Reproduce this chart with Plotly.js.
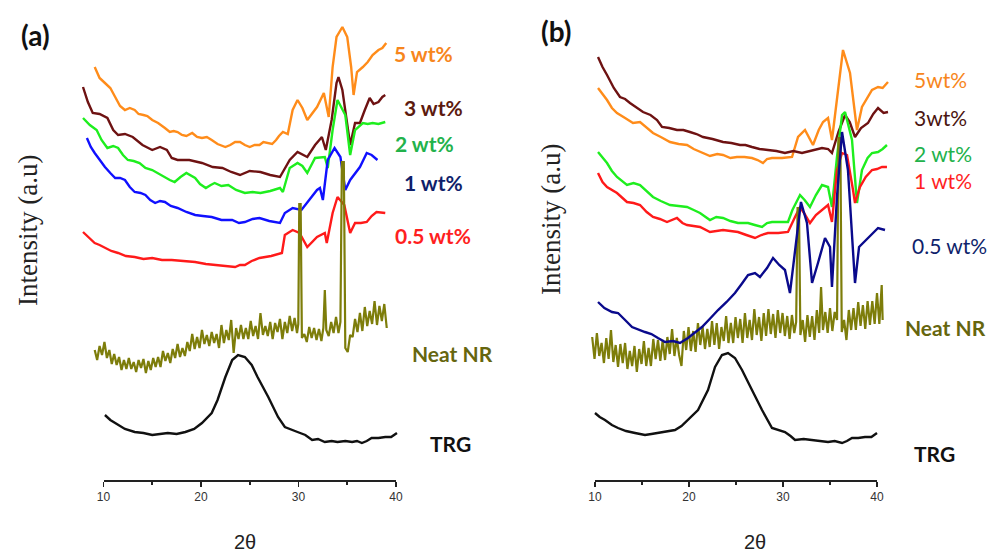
<!DOCTYPE html>
<html>
<head>
<meta charset="utf-8">
<script src="https://cdn.plot.ly/plotly-3.0.1.min.js"></script>
<style>html,body{margin:0;padding:0;background:#fff;}#chart{width:993px;height:555px;}</style>
</head>
<body>
<div id="chart"></div>
<script>
// ---------- Panel (a): 2θ (deg) and intensity (a.u.) ----------
const a5_x = [9.1,9.6,10.15,10.7,11.2,11.7,12.2,12.7,13.2,13.6,14.1,14.5,15.0,15.6,16.3,16.8,17.2,17.6,18.05,18.5,19.1,19.6,20.1,20.6,21.1,21.7,22.5,23.0,23.5,24.0,24.5,25.0,25.5,26.0,26.4,26.8,27.3,27.7,28.0,28.4,28.9,29.4,29.9,30.4,30.9,31.9,32.6,33.1,33.5,33.9,34.5,35.0,35.4,35.65,36.0,36.6,37.1,37.6,38.2,38.6,39.0];
const a5_y = [413,402,397,392,383,374,370,372,370,366,365,364,360,357,352,348,349,348,345,344,347,343,342,343,340,336,333,335,338,338,335,333,335,335,338,337,336,340,344,348,346,370,380,372,360,373,387,363,413,443,453,443,413,385,408,413,418,425,430,432,437];

const a3_x = [7.9,8.4,8.9,9.6,10.4,11.0,11.5,12.2,13.0,14.0,15.0,15.8,16.5,17.0,17.6,18.8,20.1,21.2,22.2,23.1,24.0,25.0,26.1,27.1,28.1,29.1,29.9,30.9,31.7,32.4,32.8,33.4,33.9,34.1,34.5,34.9,35.3,35.8,36.3,36.8,37.3,37.7,38.2,38.6,38.9];
const a3_y = [393,378,367,366,362,350,345,346,343,335,330,333,330,322,320,320,317,313,312,308,305,309,308,305,303,320,328,323,335,343,330,360,397,403,390,363,335,357,357,370,382,376,378,383,385];

const a2_x = [7.9,8.6,9.3,9.8,10.4,11.0,11.5,12.0,12.5,13.1,13.7,14.3,15.0,15.7,16.3,16.8,17.3,17.9,18.5,19.0,19.4,19.9,20.5,21.0,21.4,22.1,22.8,23.6,24.5,25.3,26.1,27.1,28.1,28.4,29.1,29.9,30.4,30.9,31.7,32.7,33.0,33.5,34.0,34.8,35.3,35.8,36.6,37.1,37.6,38.2,38.9];
const a2_y = [362,355,350,340,332,334,332,325,320,319,317,312,310,306,303,300,298,303,307,304,302,296,292,295,297,294,295,290,287,288,287,289,292,288,312,317,314,307,322,323,312,350,380,365,325,350,357,356,357,356,358];

const a1_x = [8.3,8.7,9.1,9.6,10.15,10.7,11.2,11.7,12.2,12.7,13.2,13.8,14.3,14.8,15.3,15.8,16.3,16.9,17.6,18.5,19.4,20.2,21.1,22.1,23.2,23.9,24.5,25.3,26.0,27.0,28.1,28.6,29.4,30.3,31.1,31.9,32.2,32.5,33.0,33.7,34.3,34.8,35.3,36.3,37.0,37.5,38.1];
const a1_y = [342,333,327,320,313,307,302,302,300,293,288,287,285,280,277,279,278,274,272,268,265,264,263,260,260,257,258,261,262,259,257,267,272,270,280,290,292,280,320,332,323,290,300,313,327,325,320];

const a05_x = [7.9,8.5,9.1,9.6,10.15,10.8,11.5,12.3,13.2,14.1,15.0,16.0,17.0,18.2,19.4,20.5,21.7,22.6,23.5,24.0,24.5,25.2,26.0,27.2,28.3,28.6,29.4,30.1,30.9,31.9,32.7,32.9,33.5,34.0,34.7,35.3,35.8,36.4,37.0,37.5,38.0,38.9];
const a05_y = [248,242,237,235,232,229,227,224,223,221,222,220,220,219,218,216,215,214,213,215,215,219,222,224,227,245,250,247,233,243,247,237,267,283,275,247,257,257,258,264,268,267];

const aNR_x = [9.10,9.35,9.60,9.85,10.10,10.35,10.60,10.85,11.10,11.35,11.60,11.85,12.10,12.35,12.60,12.85,13.10,13.35,13.60,13.85,14.10,14.35,14.60,14.85,15.10,15.35,15.60,15.85,16.10,16.35,16.60,16.85,17.10,17.35,17.60,17.85,18.10,18.35,18.60,18.85,19.10,19.35,19.60,19.85,20.10,20.35,20.60,20.85,21.10,21.35,21.60,21.85,22.10,22.35,22.60,22.85,23.10,23.35,23.60,23.85,24.10,24.35,24.60,24.85,25.10,25.35,25.60,25.85,26.10,26.35,26.60,26.85,27.10,27.35,27.60,27.85,28.10,28.35,28.60,28.85,29.10,29.35,29.60,29.85,29.98,30.08,30.22,30.35,30.60,30.85,31.10,31.35,31.60,31.85,32.10,32.35,32.55,32.70,32.85,33.10,33.35,33.60,33.85,34.10,34.30,34.45,34.65,34.80,35.05,35.30,35.55,35.80,36.05,36.30,36.55,36.80,37.05,37.30,37.55,37.80,38.05,38.30,38.55,38.80,39.05];
const aNR_y = [130,120,134,125,138,122,130,116,126,115,123,110,120,111,122,111,118,108,120,112,121,107,119,110,122,113,123,113,129,119,127,117,131,122,136,123,132,124,138,129,146,131,143,132,150,136,145,134,148,137,146,132,155,137,150,140,160,127,152,141,155,141,152,141,159,144,154,141,167,145,154,144,158,141,157,148,161,141,158,147,164,149,162,147,156,276,276,142,146,138,153,142,152,140,151,139,152,190,150,144,158,147,163,147,158,318,318,132,128,145,143,161,148,167,149,173,154,169,156,179,155,174,159,176,152];

const aTRG_x = [10.15,10.7,11.2,12.2,13.2,14.1,15.0,15.8,16.6,17.5,18.4,19.3,20.1,21.1,21.7,22.5,23.2,23.8,24.5,25.2,25.8,26.9,27.9,28.6,29.3,29.9,30.7,31.4,32.0,32.7,33.4,34.0,34.8,35.5,36.0,36.5,37.0,37.5,38.2,38.9,39.5,40.1];
const aTRG_y = [65,60,57,51,48,47,45,46,47,46,48,51,57,67,80,103,120,125,123,115,103,83,63,53,50,48,45,40,41,38,39,38,39,38,39,37,39,42,42,43,43,47];

// ---------- Panel (b) ----------
const b5_x = [10.32,10.8,11.28,11.8,12.34,13.2,14.04,14.79,15.5,16.17,17.0,17.98,18.9,19.79,20.5,21.17,22.23,23.0,23.62,24.4,25.1,25.9,26.7,27.3,27.87,28.3,28.83,29.9,30.96,31.6,32.34,33.19,33.8,34.26,34.79,35.21,35.74,36.38,37.13,37.87,38.4,39.0,39.47,40.11,40.6,41.17];
const b5_y = [392,386,380,372,367,362,357,358,352,347,343,338,336,335,331,328,324,326,325,322,323,323,322,320,317,321,322,322,323,343,350,335,350,358,362,340,383,430,407,350,373,383,390,393,392,398];

const b3_x = [10.32,10.8,11.28,12.0,12.66,13.2,13.72,14.4,15.11,15.9,16.6,17.13,17.9,18.72,19.4,20.1,20.8,21.49,22.5,23.62,24.5,25.43,26.0,26.7,27.5,28.4,29.3,30.21,31.1,32.02,33.0,34.15,34.8,35.21,35.9,36.6,37.1,37.66,38.3,39.04,39.6,40.11,40.7,41.17];
const b3_y = [423,413,405,392,383,381,377,373,368,365,360,353,352,350,350,348,346,343,341,338,337,335,335,333,331,330,329,327,329,327,329,332,331,327,348,365,358,343,352,357,366,372,367,368];

const b2_x = [10.32,10.8,11.28,11.8,12.34,13.4,14.1,14.79,15.5,16.17,17.0,17.98,18.9,19.79,20.5,21.17,22.23,22.9,23.62,24.4,25.21,26.28,27.0,27.77,28.3,28.83,29.7,30.53,31.0,31.49,31.81,32.3,32.87,33.5,34.15,34.79,35.21,35.74,36.28,36.6,37.34,37.87,38.4,39.0,39.47,40.11,40.6,41.06];
const b2_y = [328,322,317,309,303,295,297,295,289,283,279,275,274,273,270,267,260,263,262,259,257,257,255,253,257,258,258,258,270,280,285,280,273,285,295,293,273,323,365,368,340,277,310,322,327,328,331,335];

const b1_x = [10.32,10.8,11.28,11.8,12.34,13.4,14.1,14.79,15.5,16.17,16.9,17.66,18.72,19.3,19.79,21.17,22.23,23.62,24.4,25.21,26.1,27.02,27.7,28.4,29.5,30.53,31.28,31.81,32.3,32.87,33.5,34.15,34.79,35.21,35.74,36.28,36.81,37.45,37.66,38.19,38.8,39.47,40.0,40.53,41.06];
const b1_y = [307,298,293,290,287,278,277,275,268,263,261,258,262,257,255,253,248,250,249,248,245,242,245,247,247,248,263,273,266,257,265,270,275,258,310,327,325,290,277,293,303,310,311,313,313];

const b05_x = [10.32,11.0,11.81,12.45,13.2,13.94,15.32,16.0,16.7,17.45,18.3,19.04,19.89,20.6,21.38,22.2,23.09,24.0,24.89,25.6,26.28,27.02,27.55,28.3,28.94,29.6,30.21,30.74,31.49,31.91,32.55,33.09,33.72,34.47,35.0,35.21,35.74,36.28,36.91,37.66,38.09,38.6,39.04,39.6,40.11,40.85];
const b05_y = [178,172,168,167,160,153,148,146,142,138,139,137,142,147,153,161,170,178,187,196,205,207,203,212,222,215,210,187,243,278,257,197,217,242,233,193,283,348,310,197,233,238,242,248,252,250];

const bNR_x = [9.70,9.95,10.20,10.45,10.70,10.95,11.20,11.45,11.70,11.95,12.20,12.45,12.70,12.95,13.20,13.45,13.70,13.95,14.20,14.45,14.70,14.95,15.20,15.45,15.70,15.95,16.20,16.45,16.70,16.95,17.20,17.45,17.70,17.95,18.20,18.45,18.70,18.95,19.20,19.45,19.70,19.95,20.20,20.45,20.70,20.95,21.20,21.45,21.70,21.95,22.20,22.45,22.70,22.95,23.20,23.45,23.70,23.95,24.20,24.45,24.70,24.95,25.20,25.45,25.70,25.95,26.20,26.45,26.70,26.95,27.20,27.45,27.70,27.95,28.20,28.45,28.70,28.95,29.20,29.45,29.70,29.95,30.20,30.45,30.70,30.95,31.20,31.40,31.55,31.70,31.85,32.10,32.35,32.60,32.85,33.10,33.35,33.60,33.85,34.05,34.25,34.50,34.75,35.00,35.25,35.50,35.75,35.90,36.10,36.25,36.50,36.75,37.00,37.25,37.50,37.75,38.00,38.25,38.50,38.75,39.00,39.25,39.50,39.75,40.00,40.25,40.50,40.60];
const bNR_y = [143,121,147,124,137,117,142,121,150,118,135,113,136,117,137,111,129,114,134,108,131,116,139,114,132,114,141,121,140,119,140,120,143,126,151,124,142,125,114,149,130,153,129,149,128,157,135,153,131,151,133,159,135,157,131,153,139,164,137,157,137,163,142,161,137,167,142,160,140,171,145,163,139,167,144,171,146,166,142,170,147,167,144,164,141,165,147,158,272,272,145,160,138,165,143,164,140,170,147,193,150,168,147,172,149,168,160,342,342,148,160,140,170,150,172,150,178,154,175,151,179,155,179,156,187,156,195,160];

const bTRG_x = [10.0,10.5,11.06,11.8,12.45,13.3,14.26,15.32,16.0,16.7,17.6,18.51,19.2,19.89,20.96,22.02,22.77,23.51,24.15,24.89,25.64,26.7,27.77,28.83,29.5,30.21,30.8,31.28,32.2,33.09,34.0,34.79,35.5,36.28,36.8,37.34,38.0,38.72,39.4,40.0];
const bTRG_y = [67,63,60,55,52,49,47,45,46,47,48,50,54,60,70,90,113,125,127,122,110,90,70,52,50,48,44,40,41,40,39,38,39,37,39,42,42,43,43,47];

// axis ticks
const tickVals = [10, 20, 30, 40];
const tickText = ['10', '20', '30', '40'];
const minorTickVals = [15, 25, 35];

// labels
const labelsA = ['5 wt%', '3 wt%', '2 wt%', '1 wt%', '0.5 wt%', 'Neat NR', 'TRG'];
const labelsB = ['5wt%', '3wt%', '2 wt%', '1 wt%', '0.5 wt%', 'Neat NR', 'TRG'];

const C = {
  orange: '#FF8C1A', brown: '#6E1212', green: '#1EEE1E', blue: '#1010FF',
  red: '#FF1A1A', navy: '#0A0A8C', olive: '#7D7D0A', black: '#111111'
};

function line(x, y, color, width, xa) {
  return {x: x, y: y, xaxis: xa, yaxis: 'y', type: 'scatter', mode: 'lines',
          line: {color: color, width: width}, hoverinfo: 'skip'};
}

const traces = [
  line(a5_x, a5_y, C.orange, 2.4, 'x'),
  line(a3_x, a3_y, C.brown, 2.4, 'x'),
  line(a2_x, a2_y, C.green, 2.4, 'x'),
  line(a1_x, a1_y, C.blue, 2.4, 'x'),
  line(a05_x, a05_y, C.red, 2.4, 'x'),
  line(aTRG_x, aTRG_y, C.black, 2.4, 'x'),
  line(aNR_x, aNR_y, C.olive, 2.2, 'x'),
  line(b5_x, b5_y, C.orange, 2.4, 'x2'),
  line(b3_x, b3_y, C.brown, 2.4, 'x2'),
  line(b2_x, b2_y, C.green, 2.4, 'x2'),
  line(b1_x, b1_y, C.red, 2.4, 'x2'),
  line(bTRG_x, bTRG_y, C.black, 2.4, 'x2'),
  line(bNR_x, bNR_y, C.olive, 2.2, 'x2'),
  line(b05_x, b05_y, C.navy, 2.4, 'x2'),
  // empty traces so the tick-only axes get their own subplot
  {x: [], y: [], xaxis: 'x3', yaxis: 'y', type: 'scatter', mode: 'lines', hoverinfo: 'skip'},
  {x: [], y: [], xaxis: 'x4', yaxis: 'y', type: 'scatter', mode: 'lines', hoverinfo: 'skip'}
];

const W = 993, H = 555, PB = 75, PH = H - PB;
function px(v) { return v / W; }
function py(v) { return (PH - v) / PH; }   // paper y is relative to the plot area

const tickAxis = (dom) => ({
  domain: dom, range: [10, 40], anchor: 'y', showline: true, linecolor: '#222', linewidth: 2,
  ticks: 'outside', ticklen: 5, tickwidth: 1.8, tickcolor: '#222',
  tickmode: 'array', tickvals: tickVals, ticktext: tickText,
  minor: {ticks: 'outside', ticklen: 3, tickwidth: 1.8, tickcolor: '#222', tickvals: minorTickVals},
  showgrid: false, zeroline: false, fixedrange: true, visible: true,
  tickfont: {family: 'Liberation Sans, Arial, sans-serif', size: 12, color: '#333'}
});

const labelColA = ['#F7861C', '#5C1A0E', '#22B24B', '#0F1F6B', '#FF1F1F', '#66660E', '#111111'];
const labelPosA = [[392, 53], [402, 108], [393, 143], [402, 182], [393, 235], [410, 353], [428, 443]];
const labelColB = ['#F7861C', '#4A1410', '#22B24B', '#FF1F1F', '#0F1F6B', '#66660E', '#111111'];
const labelPosB = [[912, 80], [912, 117], [912, 153], [912, 180], [910, 245], [903, 327], [912, 453]];

const ann = [];
labelsA.forEach((t, i) => ann.push({
  text: '<b>' + t + '</b>', x: px(labelPosA[i][0]), y: py(labelPosA[i][1]), xref: 'paper', yref: 'paper',
  xanchor: 'left', yanchor: 'middle', showarrow: false,
  font: {family: 'Lato, sans-serif', size: 21, color: labelColA[i]}
}));
labelsB.forEach((t, i) => ann.push({
  text: (i >= 5 ? '<b>' + t + '</b>' : t), x: px(labelPosB[i][0]), y: py(labelPosB[i][1]), xref: 'paper', yref: 'paper',
  xanchor: 'left', yanchor: 'middle', showarrow: false,
  font: {family: 'Lato, sans-serif', size: 21, color: labelColB[i]}
}));
[['(a)', 35, 35], ['(b)', 556, 31]].forEach(p => ann.push({
  text: '<b>' + p[0] + '</b>', x: px(p[1]), y: py(p[2]), xref: 'paper', yref: 'paper',
  xanchor: 'center', yanchor: 'middle', showarrow: false,
  font: {family: 'Lato, sans-serif', size: 28, color: '#111'}
}));
[[28, 231], [551, 220]].forEach(p => ann.push({
  text: 'Intensity (a.u)', x: px(p[0]), y: py(p[1]), xref: 'paper', yref: 'paper',
  xanchor: 'center', yanchor: 'middle', showarrow: false, textangle: -90,
  font: {family: 'Liberation Serif, Times New Roman, serif', size: 27, color: '#222'}
}));
[[245, 542], [755, 542]].forEach(p => ann.push({
  text: '2θ', x: px(p[0]), y: py(p[1]), xref: 'paper', yref: 'paper',
  xanchor: 'center', yanchor: 'middle', showarrow: false, borderpad: 0,
  font: {family: 'Liberation Sans, Arial, sans-serif', size: 20, color: '#222'}
}));

const layout = {
  width: W, height: H,
  margin: {l: 0, r: 0, t: 0, b: PB, pad: 0},
  paper_bgcolor: '#ffffff', plot_bgcolor: 'rgba(0,0,0,0)',
  showlegend: false,
  xaxis: {domain: [79.1 / W, 405.75 / W], range: [7.5, 41], visible: false, anchor: 'y', fixedrange: true},
  xaxis2: {domain: [590.3 / W, 891.1 / W], range: [9.5, 41.5], visible: false, anchor: 'y', fixedrange: true},
  xaxis3: tickAxis([103.5 / W, 396 / W]),
  xaxis4: tickAxis([595 / W, 877 / W]),
  yaxis: {domain: [0, 1], range: [0, 480], visible: false, fixedrange: true},
  annotations: ann
};

Plotly.newPlot('chart', traces, layout, {displayModeBar: false, staticPlot: true});
</script>
</body>
</html>
